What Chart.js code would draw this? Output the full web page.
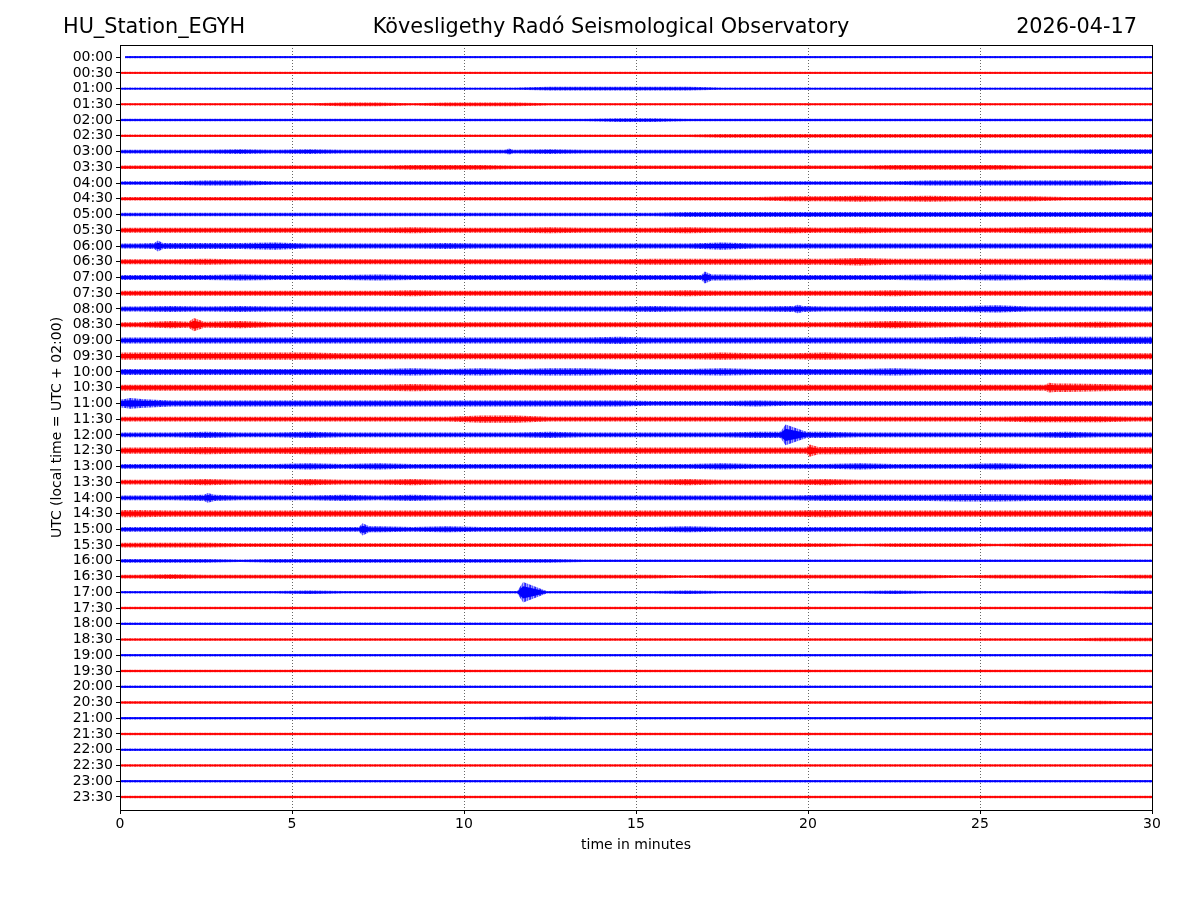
<!DOCTYPE html>
<html>
<head>
<meta charset="utf-8">
<script src="https://cdn.jsdelivr.net/npm/chart.js@4/dist/chart.umd.min.js"></script>
<style>
  html, body { margin: 0; padding: 0; background: #fff; }
  canvas { display: block; }
</style>
</head>
<body>
<canvas id="heli" width="1200" height="900"></canvas>
<script>
// trace start times (UTC), one line every 30 minutes
const rowLabels = [
  "00:00", "00:30", "01:00", "01:30", "02:00", "02:30", "03:00", "03:30",
  "04:00", "04:30", "05:00", "05:30", "06:00", "06:30", "07:00", "07:30",
  "08:00", "08:30", "09:00", "09:30", "10:00", "10:30", "11:00", "11:30",
  "12:00", "12:30", "13:00", "13:30", "14:00", "14:30", "15:00", "15:30",
  "16:00", "16:30", "17:00", "17:30", "18:00", "18:30", "19:00", "19:30",
  "20:00", "20:30", "21:00", "21:30", "22:00", "22:30", "23:00", "23:30"
];
const rowColors = [[0, 0, 255], [255, 0, 0]];
const xTicks = [0, 5, 10, 15, 20, 25, 30];

// noise envelope: one digit per minute of each trace,
// half-width of the trace in 1/26 of the trace spacing
const rowNoise = [
  "222222222222222222222222222222",
  "222222222222222222222222222222",
  "222222222222333332222222222222",
  "222222332333222222222222222222",
  "222222222222223322222222222222",
  "222222222222222223333333333333",
  "333434333333433333333333333344",
  "333333334443333333333344443333",
  "334433333333333333333334444443",
  "333333333333333333344545444333",
  "333333333333333344444444444444",
  "444444445444544454454544445544",
  "455564444544444446444444444444",
  "445444444444444555555655555555",
  "444544454444444445444445454445",
  "444444445444444454444454444444",
  "454544444444444544454455564444",
  "465644444444444444444565454454",
  "555555555555556555555555655666",
  "666666555555555556556555555555",
  "555555556565665556555565555555",
  "555555556555555555555555555765",
  "755555555555555444544444444444",
  "444444444466444444444444445554",
  "445445444444544444555444444544",
  "556556655555555555556655555555",
  "444445454444444445444544454444",
  "445445445444444454445444444544",
  "445444545444444444445555665555",
  "655555555555555555556555555555",
  "444444454544444454444444444444",
  "444333333333333333333233323332",
  "333233333333322222222222222222",
  "343333333333333323333333233323",
  "222223222222222232222232222223",
  "222222222222222222222222222222",
  "222222222222222222222222222222",
  "222222222222222222222222222233",
  "222222222222222222222222222222",
  "222222222222222222222222222222",
  "222222222222222222222222222222",
  "222222222222222222222222223332",
  "222222222222322222222222222222",
  "222222222222222222222222222222",
  "222222222222222222222222222222",
  "222222222222222222222222222222",
  "222222222222222222222222222222",
  "222222222222222222222222222222"
];

// local bursts: [row, start min, peak min, end min, peak half-width (same units)]
const bursts = [
  [6, 11.2, 11.3, 11.45, 5],
  [12, 1.0, 1.1, 1.25, 9],
  [14, 16.9, 17.0, 17.2, 10],
  [16, 19.6, 19.7, 19.85, 7],
  [17, 2.0, 2.15, 2.45, 11],
  [21, 26.9, 27.0, 27.2, 8],
  [22, 0.1, 0.3, 0.7, 9],
  [24, 19.2, 19.35, 19.95, 17],
  [25, 19.95, 20.05, 20.3, 10],
  [28, 2.45, 2.55, 2.75, 8],
  [30, 6.95, 7.05, 7.25, 10],
  [34, 11.55, 11.72, 12.4, 17]
];

const AMP_UNIT = 1 / 26;
const CORE = 0.6;
const FONT = "'DejaVu Sans', 'Liberation Sans', sans-serif";

function envelope(r) {
  const a = rowNoise[r];
  const evs = bursts.filter(e => e[0] === r);
  const pts = [];
  pts.push([r === 0 ? 0.15 : 0, +a[0]]);
  for (let i = 0; i < 30; i++) {
    const x = i + 0.5;
    if (evs.some(e => x > e[1] && x < e[3])) continue;
    pts.push([x, +a[i]]);
  }
  pts.push([30, +a[29]]);
  evs.forEach(e => {
    pts.push([e[1], +a[Math.floor(e[1])]]);
    pts.push([e[2], e[4]]);
    pts.push([e[3], +a[Math.min(29, Math.floor(e[3]))]]);
  });
  pts.sort((p, q) => p[0] - q[0]);
  return pts;
}

// striped fill so the outer part of a trace reads as wiggles, not a solid bar
function stripes(rgb) {
  const c = document.createElement("canvas");
  c.width = 5;
  c.height = 1;
  const g = c.getContext("2d");
  [0.85, 0.4, 0.65, 0.3, 0.7].forEach((al, i) => {
    g.fillStyle = "rgba(" + rgb.join(",") + "," + al + ")";
    g.fillRect(i, 0, 1, 1);
  });
  return g.createPattern(c, "repeat");
}

const datasets = [];
rowLabels.forEach((lab, r) => {
  const rgb = rowColors[r % 2];
  const col = "rgb(" + rgb.join(",") + ")";
  const env = envelope(r);
  const pat = stripes(rgb);
  const band = (k, extra) => [
    {
      label: lab + " hi",
      data: env.map(p => ({ x: p[0], y: r - p[1] * AMP_UNIT * k })),
      borderWidth: 0,
      pointRadius: 0,
      fill: false
    },
    Object.assign({
      label: lab,
      data: env.map(p => ({ x: p[0], y: r + p[1] * AMP_UNIT * k })),
      borderWidth: 0,
      pointRadius: 0,
      fill: "-1"
    }, extra)
  ];
  datasets.push(...band(1, { backgroundColor: pat }));
  datasets.push(...band(CORE, { backgroundColor: col }));
  datasets.push({
    label: lab + " mid",
    data: env.map(p => ({ x: p[0], y: r })),
    borderColor: col,
    borderWidth: 1.3,
    pointRadius: 0,
    fill: false
  });
});

const decor = {
  id: "decor",
  beforeDatasetsDraw(chart) {
    const { ctx, chartArea, scales } = chart;
    ctx.save();
    ctx.strokeStyle = "rgba(0,0,0,0.75)";
    ctx.lineWidth = 0.8;
    ctx.setLineDash([1, 2]);
    xTicks.slice(1, -1).forEach(v => {
      const px = Math.round(scales.x.getPixelForValue(v)) + 0.5;
      ctx.beginPath();
      ctx.moveTo(px, chartArea.top);
      ctx.lineTo(px, chartArea.bottom);
      ctx.stroke();
    });
    ctx.restore();
  },
  afterDraw(chart) {
    const { ctx, chartArea } = chart;
    ctx.save();
    ctx.strokeStyle = "#000";
    ctx.lineWidth = 1;
    ctx.strokeRect(chartArea.left + 0.5, chartArea.top + 0.5,
      chartArea.right - chartArea.left, chartArea.bottom - chartArea.top);

    ctx.fillStyle = "#000";
    ctx.textBaseline = "middle";
    ctx.font = "20.8px " + FONT;
    ctx.textAlign = "left";
    ctx.fillText("HU_Station_EGYH", 63, 28);
    ctx.textAlign = "center";
    ctx.fillText("Kövesligethy Radó Seismological Observatory", 611, 28);
    ctx.textAlign = "right";
    ctx.fillText("2026-04-17", 1137, 28);

    ctx.font = "14px " + FONT;
    ctx.textAlign = "center";
    ctx.fillText("time in minutes", (chartArea.left + chartArea.right) / 2, 845);
    ctx.translate(57, (chartArea.top + chartArea.bottom) / 2);
    ctx.rotate(-Math.PI / 2);
    ctx.fillText("UTC (local time = UTC + 02:00)", 0, 0);
    ctx.restore();
  }
};

new Chart(document.getElementById("heli"), {
  type: "line",
  data: { datasets: datasets },
  options: {
    responsive: false,
    animation: false,
    devicePixelRatio: 1,
    layout: { padding: { left: 0, top: 45, right: 48, bottom: 50 } },
    plugins: { legend: { display: false }, tooltip: { enabled: false } },
    elements: { line: { tension: 0 } },
    scales: {
      x: {
        type: "linear",
        min: 0,
        max: 30,
        afterBuildTicks: s => { s.ticks = xTicks.map(v => ({ value: v })); },
        afterFit: s => { s.height = 40; },
        ticks: { color: "#000", font: { family: FONT, size: 14 }, padding: 2, maxRotation: 0 },
        grid: { drawOnChartArea: false, tickLength: 4, tickColor: "#000" },
        border: { display: false }
      },
      y: {
        type: "linear",
        reverse: true,
        min: -0.77,
        max: 47.83,
        afterBuildTicks: s => { s.ticks = rowLabels.map((_, i) => ({ value: i })); },
        afterFit: s => { s.width = 120; },
        ticks: {
          autoSkip: false,
          color: "#000",
          font: { family: FONT, size: 14 },
          padding: 3,
          callback: (v, i) => rowLabels[i]
        },
        grid: { drawOnChartArea: false, tickLength: 4, tickColor: "#000" },
        border: { display: false }
      }
    }
  },
  plugins: [decor]
});
</script>
</body>
</html>
